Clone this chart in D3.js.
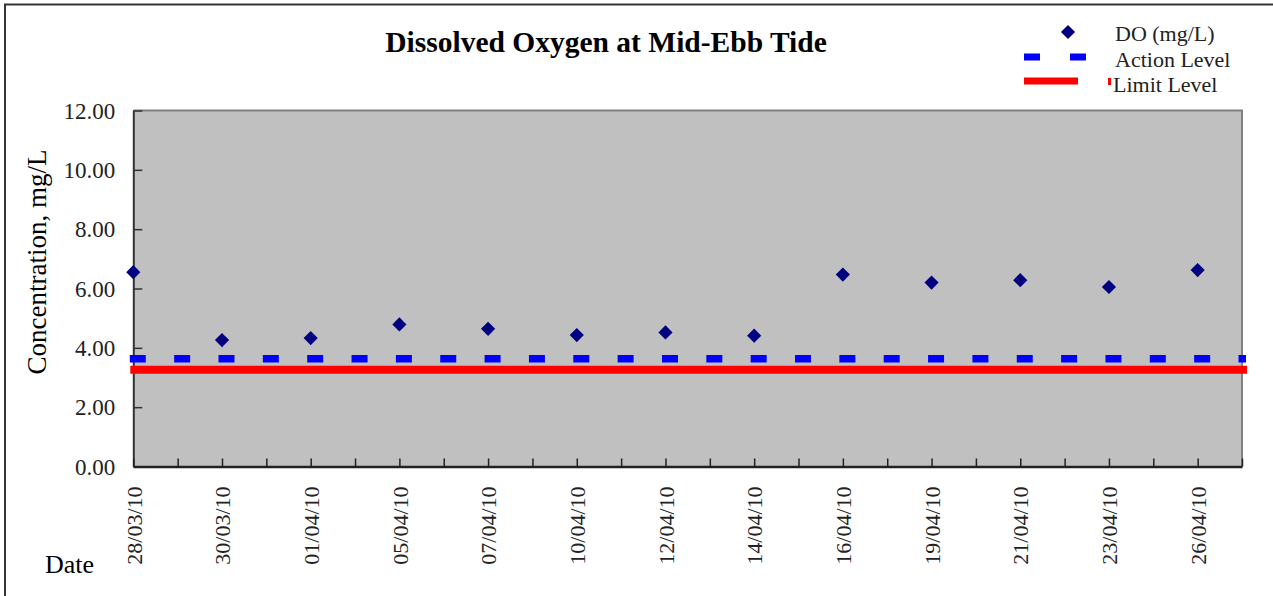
<!DOCTYPE html>
<html><head><meta charset="utf-8">
<script src="https://cdn.jsdelivr.net/npm/d3@7"></script>
<style>body{margin:0;background:#fff}svg{display:block}</style>
</head><body>
<svg id="c" width="1273" height="596"></svg>
<script>
const title = "Dissolved Oxygen at Mid-Ebb Tide";
const dates = ["28/03/10","30/03/10","01/04/10","05/04/10","07/04/10","10/04/10","12/04/10","14/04/10","16/04/10","19/04/10","21/04/10","23/04/10","26/04/10"];
const doValues = [6.55,4.26,4.33,4.79,4.64,4.43,4.52,4.41,6.47,6.20,6.28,6.05,6.62];
const actionLevel = [3.63];
const limitLevel = [3.26];
const yTicks = [0,2,4,6,8,10,12];
const legendNames = ["DO (mg/L)","Action Level","Limit Level"];

const svg = d3.select("#c");
const L = 133.3, R = 1242, T = 110.5, B = 466.5;
const x = d3.scaleLinear().domain([0, dates.length - 0.5]).range([L, R]);
const y = d3.scaleLinear().domain([0, 12]).range([B, T]);
const serif = "'Liberation Serif', 'Times New Roman', serif";

// outer frame
svg.append("path").attr("d","M5,600 V4.5 H1280").attr("fill","none").attr("stroke","#333").attr("stroke-width",2);

// plot area
svg.append("rect").attr("x",L).attr("y",T).attr("width",R-L).attr("height",B-T).attr("fill","#c0c0c0");
svg.append("path").attr("d",`M${L},${T} H${R} V${B}`).attr("fill","none").attr("stroke","#808080").attr("stroke-width",2);

// y axis
const yAxis = d3.axisLeft(y).tickValues(yTicks).tickFormat(d3.format(".2f")).tickSizeInner(-9).tickSizeOuter(0).tickPadding(18);
const gy = svg.append("g").attr("transform",`translate(${L},0)`).call(yAxis);
gy.attr("font-family", null).attr("font-size", null);
gy.select(".domain").attr("stroke","#333").attr("stroke-width",2);
gy.selectAll(".tick line").attr("stroke","#333").attr("stroke-width",1.5);
gy.selectAll("text").style("font-family",serif).style("font-size","23px").attr("fill","#222").attr("dy","0.34em");

// x axis
const halfTicks = d3.range(0, dates.length, 0.5);
const xAxis = d3.axisBottom(x).tickValues(halfTicks).tickFormat(d => Number.isInteger(d) ? dates[d] : "").tickSizeInner(-8).tickSizeOuter(0).tickPadding(0);
const gx = svg.append("g").attr("transform",`translate(0,${B})`).call(xAxis);
gx.attr("font-family", null).attr("font-size", null);
gx.select(".domain").attr("stroke","#222").attr("stroke-width",2.5);
gx.selectAll(".tick line").attr("stroke","#222").attr("stroke-width",1.5);
gx.selectAll("text").style("font-family",serif).style("font-size","22px").attr("fill","#222")
  .attr("transform","rotate(-90)").attr("text-anchor","end").attr("x",-20).attr("y",0).attr("dy","0.35em");

// limit level
const halfStep = x(0.5) - x(0);
svg.append("line").attr("x1",L-3).attr("x2",R+5).attr("y1",y(limitLevel[0])).attr("y2",y(limitLevel[0]))
  .attr("stroke","#ff0000").attr("stroke-width",8);
// action level
svg.append("line").attr("x1",L-3.5).attr("x2",R+4).attr("y1",y(actionLevel[0])).attr("y2",y(actionLevel[0]))
  .attr("stroke","#0000ff").attr("stroke-width",7.5).attr("stroke-dasharray",`16 ${halfStep-16}`);

// DO points
const diamond = d3.symbol().type(d3.symbolDiamond2).size(128);
svg.append("g").selectAll("path").data(doValues).join("path")
  .attr("d", diamond).attr("transform",(d,i)=>`translate(${x(i)},${y(d)})`)
  .attr("fill","#000080");

// title
svg.append("text").attr("x",606).attr("y",52).attr("text-anchor","middle")
  .style("font-family",serif).style("font-weight","bold").style("font-size","29.5px").attr("fill","#000").text(title);

// y title
svg.append("text").attr("transform","translate(46,262) rotate(-90)").attr("text-anchor","middle")
  .style("font-family",serif).style("font-size","27px").attr("fill","#000").text("Concentration, mg/L");

// Date label
svg.append("text").attr("x",45).attr("y",573).style("font-family",serif).style("font-size","26px").attr("fill","#000").text("Date");

// legend
const lg = svg.append("g");
lg.append("path").attr("d",diamond).attr("transform","translate(1068,32)").attr("fill","#000080");
lg.append("line").attr("x1",1024).attr("x2",1087).attr("y1",57).attr("y2",57).attr("stroke","#0000ff").attr("stroke-width",7).attr("stroke-dasharray","16 30");
lg.append("line").attr("x1",1024).attr("x2",1078).attr("y1",81).attr("y2",81).attr("stroke","#ff0000").attr("stroke-width",7);
lg.append("rect").attr("x",1108).attr("y",78).attr("width",3).attr("height",7).attr("fill","#ff0000");
lg.selectAll("text.lt").data(legendNames).join("text").attr("class","lt")
  .attr("x",(d,i)=> i===2 ? 1113 : 1115).attr("y",(d,i)=>41+i*25.5)
  .style("font-family",serif).style("font-size","22px").attr("fill","#222").text(d=>d);
</script>
</body></html>
